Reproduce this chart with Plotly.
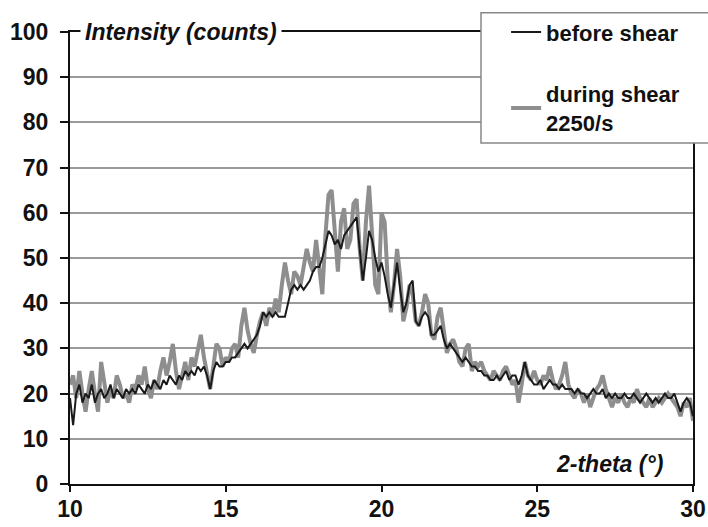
import numpy as np
import plotly.graph_objects as go

# 2-theta sampling grid (degrees), 0.1 step from 10 to 30
theta_start, theta_end = 10.0, 30.0

# Intensity (counts) during shear 2250/s (grey)
during_shear = [
    22, 24, 19, 25, 20, 16, 21, 25, 20, 16,
    27, 22, 18, 21, 19, 24, 22, 19, 20, 18,
    22, 21, 24, 22, 26, 21, 19, 23, 21, 25,
    28, 24, 27, 31, 25, 21, 24, 27, 23, 28,
    26, 30, 33, 28, 24, 21, 26, 31, 30, 26,
    28, 27, 30, 31, 28, 35, 39, 34, 31, 29,
    33, 36, 38, 35, 39, 37, 41, 38, 44, 49,
    45, 42, 47, 46, 44, 48, 52, 49, 47, 54,
    48, 42, 55, 64, 65, 55, 47, 58, 61, 52,
    54, 62, 63, 52, 45, 58, 66, 55, 44, 42,
    60, 58, 45, 38, 44, 52, 46, 36, 39, 44,
    42, 36, 35, 38, 42, 40, 33, 32, 37, 39,
    34, 29, 31, 32, 30, 27, 26, 30, 31, 25,
    27, 26, 27, 25, 24, 23, 25, 24, 23, 25,
    26, 24, 22, 23, 18, 22, 27, 24, 23, 25,
    23, 22, 24, 23, 26, 23, 21, 22, 24, 27,
    22, 20, 19, 21, 20, 18, 20, 17, 19, 21,
    22, 24, 21, 19, 17, 19, 18, 20, 18, 17,
    19, 18, 21, 19, 18, 17, 19, 17, 18, 19,
    18, 19, 20, 19, 18, 17, 15, 18, 17, 19,
    14,
]

# Intensity (counts) before shear (black)
before_shear = [
    19, 13, 20, 22, 18, 20, 19, 22, 18, 20,
    21, 19, 20, 22, 19, 21, 20, 19, 21, 20,
    21, 20, 22, 21, 20, 22, 21, 23, 22, 21,
    23, 22, 24, 23, 22, 24, 23, 25, 24, 25,
    24, 26, 25, 26, 24, 21, 25, 27, 26, 26,
    27, 27, 28, 28, 29, 30, 31, 30, 31, 32,
    33, 35, 38, 37, 38, 37, 38, 37, 37, 37,
    40, 43, 44, 43, 44, 43, 44, 45, 47, 48,
    48, 50, 53, 56, 55, 53, 54, 52, 55, 56,
    57, 58, 59, 52, 45, 50, 56, 54, 50, 47,
    49, 46, 42, 39, 44, 49, 43, 38, 40, 44,
    45, 36, 35, 37, 38, 37, 33, 33, 34, 35,
    32, 30, 31, 30, 29, 28, 27, 28, 27, 26,
    26, 25, 25, 24, 24, 23, 23, 24, 23, 24,
    25, 23, 24, 24, 22, 24, 27, 24, 23, 22,
    22, 23, 21, 22, 23, 22, 22, 21, 22, 21,
    21, 21, 20, 21, 20, 20, 19, 20, 21, 20,
    20, 21, 19, 20, 19, 20, 19, 19, 20, 19,
    19, 20, 19, 18, 19, 20, 19, 18, 19, 18,
    19, 20, 19, 19, 20, 18, 16, 18, 19, 18,
    15,
]

x_during = np.round(np.linspace(theta_start, theta_end, len(during_shear)), 2)
x_before = np.round(np.linspace(theta_start, theta_end, len(before_shear)), 2)

y_ticks = list(range(0, 101, 10))
x_ticks = [10, 15, 20, 25, 30]

FONT = "Liberation Sans, Arial, sans-serif"
FS = 23

fig = go.Figure()
fig.add_trace(go.Scatter(
    x=x_during, y=during_shear, mode="lines",
    name="during shear<br>2250/s", legendgroup="b", legendrank=2,
    line=dict(color="#8e8e8e", width=4),
))
fig.add_trace(go.Scatter(
    x=x_before, y=before_shear, mode="lines",
    name="before shear", legendgroup="a", legendrank=1,
    line=dict(color="#1a1a1a", width=2),
))

fig.update_layout(
    width=708, height=527, autosize=False,
    margin=dict(l=70, r=15, t=32, b=43, autoexpand=False),
    paper_bgcolor="white", plot_bgcolor="white",
    font=dict(family=FONT, size=FS, color="#111"),
    showlegend=True,
    legend=dict(
        x=0.7, y=1.046, xanchor="left", yanchor="top",
        bgcolor="rgba(0,0,0,0)", borderwidth=0,
        font=dict(family=FONT, size=22, color="#111", weight="bold"),
        traceorder="grouped", tracegroupgap=30,
    ),
    xaxis=dict(
        range=[theta_start, theta_end], tickvals=x_ticks,
        showgrid=False, zeroline=False,
        showline=True, linecolor="#111", linewidth=2, mirror=True,
        ticks="outside", ticklen=6, tickwidth=2, tickcolor="#111",
        ticklabelstandoff=-3,
        tickfont=dict(family=FONT, size=FS, weight="bold"),
    ),
    yaxis=dict(
        range=[0, 100], tickvals=y_ticks,
        showgrid=True, gridcolor="#9a9a9a", gridwidth=1.5, zeroline=False,
        showline=True, linecolor="#111", linewidth=2, mirror=True,
        ticks="outside", ticklen=8, tickwidth=2, tickcolor="#111",
        ticklabelstandoff=7,
        tickfont=dict(family=FONT, size=FS, weight="bold"),
    ),
    shapes=[
        dict(type="rect", xref="paper", yref="paper",
             x0=0.6597, x1=1.04, y0=0.7544, y1=1.0427,
             fillcolor="white", line=dict(color="#888", width=1.5),
             layer="above"),
    ],
    annotations=[
        dict(text="<b><i>Intensity (counts)</i></b>", xref="paper", yref="paper",
             x=0.016, y=1.0, xanchor="left", yanchor="middle",
             showarrow=False, bgcolor="white", borderpad=4,
             font=dict(family=FONT, size=FS, color="#111")),
        dict(text="<b><i>2-theta (°)</i></b>", xref="paper", yref="paper",
             x=0.955, y=0.044, xanchor="right", yanchor="middle",
             showarrow=False,
             font=dict(family=FONT, size=FS, color="#111")),
    ],
)

fig.write_html(
    "out.html",
    config={"displayModeBar": False},
    post_script="document.body.style.margin='0';document.body.style.padding='0';",
)
